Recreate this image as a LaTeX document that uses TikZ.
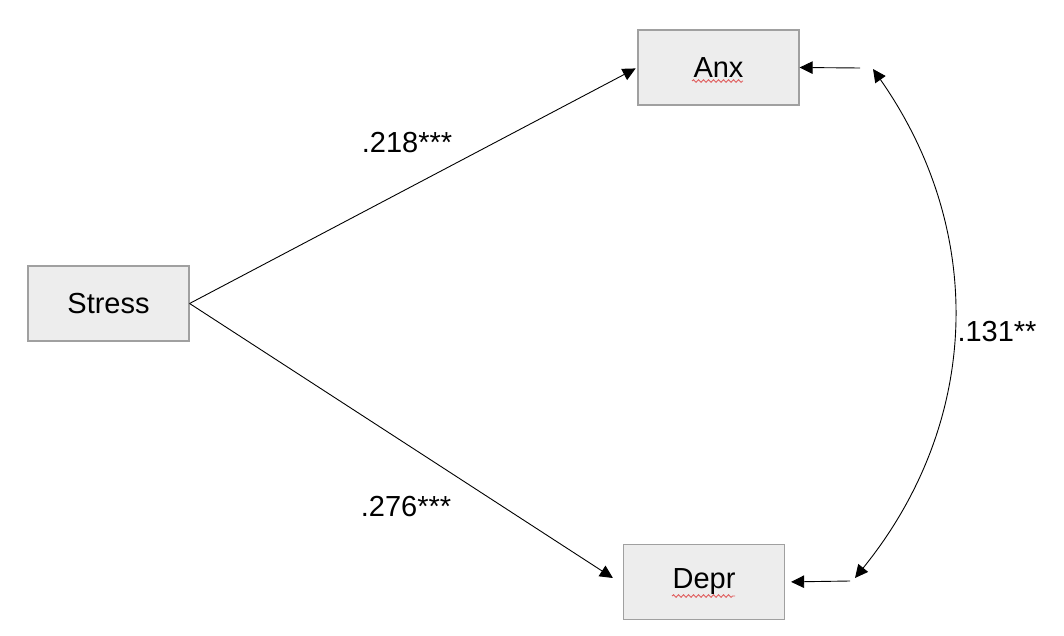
\documentclass[tikz,border=0pt]{standalone}
\usepackage{fontspec}
\setmainfont{Liberation Sans}
\usetikzlibrary{arrows.meta,decorations.pathmorphing}
\definecolor{boxfill}{HTML}{EDEDED}
\definecolor{boxline}{HTML}{A0A0A0}
\definecolor{squig}{HTML}{E06060}
\begin{document}
\begin{tikzpicture}[x=1pt,y=-1pt,
  var/.style={draw=boxline,fill=boxfill,line width=1.2pt,minimum width=161pt,minimum height=75pt,inner sep=0pt,font=\fontsize{29}{32}\selectfont},
  lab/.style={font=\fontsize{29}{32}\selectfont,inner sep=0pt},
  conn/.style={line width=0.9pt,-{Triangle[length=13pt,width=12.5pt]}},
  spell/.style={squig,line width=0.9pt,decorate,decoration={snake,amplitude=1.3pt,segment length=5pt}}]
\useasboundingbox (0,0) rectangle (1064,636);
\node[var] (stress) at (108.5,303.5) {Stress};
\node[var] (anx) at (718.5,67.5) {Anx};
\node[var] (depr) at (704,582) {Depr};
\coordinate (ae) at (860,68);
\coordinate (de) at (850,581);
\coordinate (c1) at (873,69);
\coordinate (c2) at (855,578);
\draw[conn,shorten >=2pt] (stress.east) -- (anx.west);
\draw[conn] (stress.east) -- ([xshift=-10pt,yshift=4pt]depr.west);
\draw[conn] (ae) -- (anx.east);
\draw[conn,shorten >=6pt] (de) -- (depr.east);
\draw[line width=0.9pt,{Triangle[length=13pt,width=12.5pt]}-{Triangle[length=13pt,width=12.5pt]}] (c1) to[bend left=37] (c2);
\node[lab] (l1) at (407,143) {.218***};
\node[lab] (l2) at (406,507) {.276***};
\node[lab] (l3) at (997,332) {.131**};
\draw[spell] (692,81) -- (743,81);
\draw[spell] (672,596) -- (735,596);
\end{tikzpicture}
\end{document}
